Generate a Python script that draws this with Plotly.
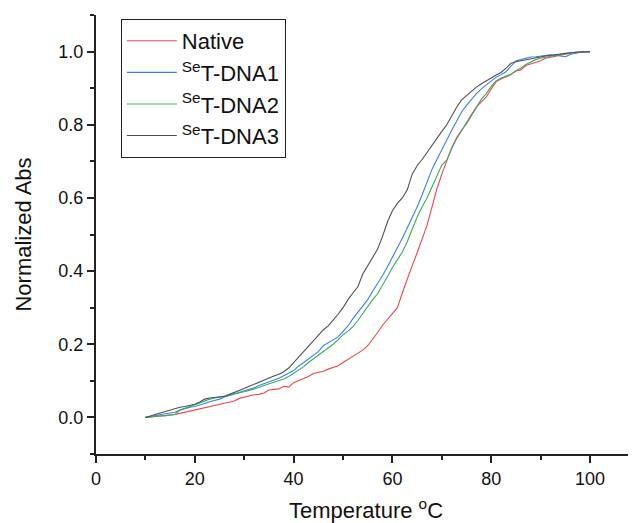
import plotly.graph_objects as go

temperature = list(range(10, 101))

native = [0.000, 0.002, 0.003, 0.004, 0.005, 0.006, 0.008, 0.011, 0.014, 0.017,
          0.020, 0.024, 0.028, 0.031, 0.033, 0.035, 0.038, 0.041, 0.045, 0.052,
          0.056, 0.058, 0.062, 0.063, 0.067, 0.075, 0.077, 0.078, 0.085, 0.083,
          0.095, 0.100, 0.105, 0.112, 0.120, 0.122, 0.126, 0.132, 0.136, 0.141,
          0.150, 0.158, 0.166, 0.175, 0.184, 0.196, 0.213, 0.232, 0.252, 0.268,
          0.285, 0.300, 0.340, 0.380, 0.415, 0.450, 0.490, 0.525, 0.575, 0.625,
          0.665, 0.702, 0.738, 0.762, 0.785, 0.805, 0.828, 0.849, 0.862, 0.876,
          0.898, 0.918, 0.925, 0.932, 0.937, 0.947, 0.950, 0.962, 0.966, 0.972,
          0.975, 0.982, 0.985, 0.988, 0.991, 0.994, 0.996, 0.998, 0.999, 1.000,
          1.000]

set_dna1 = [0.000, 0.003, 0.006, 0.008, 0.010, 0.012, 0.014, 0.020, 0.025, 0.028,
            0.030, 0.033, 0.038, 0.043, 0.046, 0.050, 0.056, 0.060, 0.065, 0.068,
            0.072, 0.076, 0.081, 0.087, 0.092, 0.096, 0.101, 0.107, 0.114, 0.120,
            0.128, 0.140, 0.150, 0.160, 0.168, 0.180, 0.196, 0.205, 0.212, 0.220,
            0.235, 0.250, 0.270, 0.288, 0.305, 0.322, 0.345, 0.365, 0.388, 0.412,
            0.438, 0.460, 0.490, 0.518, 0.545, 0.575, 0.608, 0.645, 0.678, 0.705,
            0.730, 0.758, 0.785, 0.810, 0.835, 0.853, 0.870, 0.885, 0.898, 0.908,
            0.920, 0.930, 0.937, 0.945, 0.960, 0.975, 0.978, 0.982, 0.985, 0.986,
            0.988, 0.990, 0.991, 0.990, 0.989, 0.986, 0.992, 0.996, 0.998, 1.000,
            1.000]

set_dna2 = [0.000, 0.002, 0.003, 0.004, 0.005, 0.006, 0.008, 0.020, 0.026, 0.030,
            0.035, 0.040, 0.046, 0.050, 0.053, 0.055, 0.057, 0.060, 0.064, 0.066,
            0.070, 0.074, 0.077, 0.082, 0.087, 0.091, 0.096, 0.099, 0.105, 0.112,
            0.120, 0.130, 0.138, 0.150, 0.160, 0.168, 0.180, 0.190, 0.200, 0.212,
            0.226, 0.236, 0.248, 0.265, 0.285, 0.305, 0.322, 0.338, 0.360, 0.385,
            0.410, 0.432, 0.452, 0.480, 0.515, 0.548, 0.575, 0.600, 0.630, 0.660,
            0.690, 0.703, 0.735, 0.765, 0.785, 0.803, 0.825, 0.848, 0.870, 0.885,
            0.905, 0.920, 0.928, 0.933, 0.938, 0.948, 0.955, 0.965, 0.972, 0.978,
            0.982, 0.985, 0.988, 0.991, 0.993, 0.995, 0.997, 0.998, 0.999, 1.000,
            1.000]

set_dna3 = [0.000, 0.005, 0.008, 0.012, 0.016, 0.020, 0.026, 0.028, 0.030, 0.032,
            0.036, 0.042, 0.050, 0.053, 0.055, 0.056, 0.058, 0.063, 0.068, 0.072,
            0.079, 0.085, 0.091, 0.096, 0.101, 0.107, 0.113, 0.118, 0.125, 0.135,
            0.150, 0.165, 0.180, 0.195, 0.210, 0.225, 0.239, 0.250, 0.265, 0.282,
            0.300, 0.322, 0.340, 0.357, 0.392, 0.415, 0.437, 0.460, 0.495, 0.535,
            0.565, 0.585, 0.600, 0.622, 0.665, 0.688, 0.705, 0.725, 0.745, 0.765,
            0.782, 0.800, 0.825, 0.848, 0.868, 0.880, 0.892, 0.903, 0.912, 0.921,
            0.928, 0.936, 0.943, 0.955, 0.968, 0.972, 0.975, 0.977, 0.980, 0.982,
            0.985, 0.988, 0.990, 0.992, 0.994, 0.995, 0.997, 0.998, 0.999, 1.000,
            1.000]

series_names = ["Native", "<sup>Se</sup>T-DNA1", "<sup>Se</sup>T-DNA2", "<sup>Se</sup>T-DNA3"]
series_values = [native, set_dna1, set_dna2, set_dna3]
series_colors = ["#F04848", "#3A80E6", "#3AAA62", "#505050"]

x_ticks = [0, 20, 40, 60, 80, 100]
y_ticks = [0.0, 0.2, 0.4, 0.6, 0.8, 1.0]

fig = go.Figure()
for name, vals, col in zip(series_names, series_values, series_colors):
    fig.add_trace(go.Scatter(x=temperature, y=vals, mode="lines", name=name,
                             line=dict(color=col, width=1.1)))

font_family = "Liberation Sans, Arial, sans-serif"
# page body has an 8px default margin, so the figure is sized to fit the window
fig.update_layout(
    width=628, height=515,
    margin=dict(l=88, r=0, t=7, b=69),
    plot_bgcolor="white", paper_bgcolor="white",
    font=dict(family=font_family, color="#111111"),
    showlegend=True,
    legend=dict(x=0.046, y=0.991, xanchor="left", yanchor="top",
                bgcolor="white", bordercolor="#222222", borderwidth=1,
                font=dict(size=22, family=font_family, color="#111111"),
                tracegroupgap=0, itemwidth=50),
)
fig.update_xaxes(
    range=[0, 109.3], tickvals=x_ticks, ticktext=[str(v) for v in x_ticks],
    ticks="outside", ticklen=7, tickwidth=1.5, tickcolor="#222222",
    showline=True, linewidth=2, linecolor="#222222", showgrid=False, zeroline=False,
    minor=dict(dtick=10, tick0=0, ticks="outside", ticklen=4, tickwidth=1.5, tickcolor="#222222"),
    tickfont=dict(size=18), automargin=False,
    title=dict(text="Temperature <sup>o</sup>C", font=dict(size=22), standoff=15),
)
fig.update_yaxes(
    range=[-0.1, 1.1], tickvals=y_ticks, ticktext=[f"{v:.1f}" for v in y_ticks],
    ticks="outside", ticklen=7, tickwidth=1.5, tickcolor="#222222",
    showline=True, linewidth=2, linecolor="#222222", showgrid=False, zeroline=False,
    minor=dict(dtick=0.1, tick0=0, ticks="outside", ticklen=4, tickwidth=1.5, tickcolor="#222222"),
    tickfont=dict(size=18), automargin=False,
    title=dict(text="Normalized Abs", font=dict(size=22), standoff=21),
)

fig.write_html("out.html")
